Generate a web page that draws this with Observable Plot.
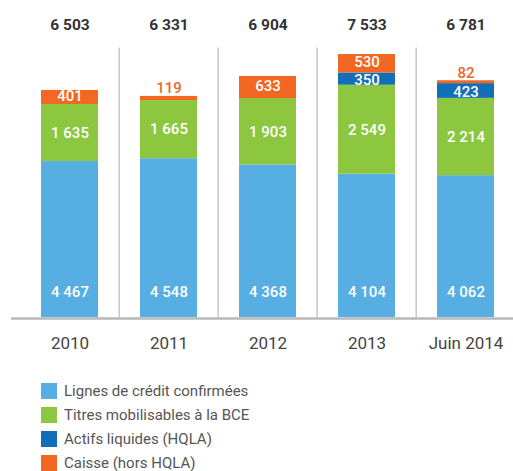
<!DOCTYPE html>
<html>
<head>
<meta charset="utf-8">
<script src="https://cdn.jsdelivr.net/npm/d3@7"></script>
<script src="https://cdn.jsdelivr.net/npm/@observablehq/plot@0.6"></script>
<style>
  body { margin: 0; background: #fff; font-family: Roboto, "Noto Sans", sans-serif; }
  #legend { padding-left: 41px; margin-top: 19px; }
  .item { display: flex; align-items: center; height: 24px; font-size: 15px; color: #555; }
  .sw { width: 16px; height: 16px; margin-right: 7px; }
</style>
</head>
<body>
<div id="chart"></div>
<div id="legend"></div>
<script>
const categories = ["2010", "2011", "2012", "2013", "Juin 2014"];
const totals = [6503, 6331, 6904, 7533, 6781];
const lignes = [4467, 4548, 4368, 4104, 4062];
const titres = [1635, 1665, 1903, 2549, 2214];
const actifs = [0, 0, 0, 350, 423];
const caisse = [401, 119, 633, 530, 82];
const seriesNames = ["Lignes de crédit confirmées", "Titres mobilisables à la BCE", "Actifs liquides (HQLA)", "Caisse (hors HQLA)"];
const seriesColors = ["#56AEE2", "#8DC63F", "#126FB7", "#F26722"];

const seriesValues = [lignes, titres, actifs, caisse];
const fmt = d3.formatLocale({decimal: ",", thousands: " ", grouping: [3], currency: ["", ""]}).format(",d");

const rows = [];
categories.forEach((c, i) => {
  let acc = 0;
  seriesValues.forEach((vals, s) => {
    const v = vals[i];
    if (v > 0) rows.push({cat: c, series: seriesNames[s], s, value: v, y1: acc, y2: acc + v});
    acc += v;
  });
});
const totalRows = categories.map((c, i) => ({cat: c, total: totals[i]}));

const bottomLabels = rows.filter(d => d.s === 0);
const greenLabels = rows.filter(d => d.s === 1);
const blueLabels = rows.filter(d => d.s === 2);
const orangeIn = rows.filter(d => d.s === 3 && d.value >= 200);
const orangeOut = rows.filter(d => d.s === 3 && d.value < 200);
const mid = d => (d.y1 + d.y2) / 2;
const lab = {text: d => fmt(d.value), fontSize: 15, fontWeight: 500, lineAnchor: "middle"};

const chart = Plot.plot({
  width: 513,
  height: 360,
  marginTop: 0,
  marginLeft: 11,
  marginRight: 0,
  marginBottom: 43,
  style: {fontFamily: "Roboto, sans-serif", background: "#fff"},
  x: {domain: categories, range: [18.75, 516.25], paddingInner: 0.427, paddingOuter: 0.2135, label: null},
  y: {domain: [0, 7533], range: [317, 54], axis: null},
  color: {domain: seriesNames, range: seriesColors},
  marks: [
    Plot.ruleX(categories.slice(0, 4), {x: d => d, y1: 0, y2: 7720, dx: 49.2, stroke: "#c8c8c8", strokeWidth: 1.5}),
    Plot.barY(rows, {x: "cat", y1: "y1", y2: "y2", fill: "series"}),
    Plot.ruleY([0], {stroke: "#b8b8b8", strokeWidth: 2.5, dy: 1}),
    Plot.axisX({tickSize: 0, tickPadding: 19, fontSize: 17, fill: "#444", label: null}),
    Plot.text(totalRows, {x: "cat", frameAnchor: "top", dy: 25, text: d => fmt(d.total), fontSize: 15.5, fontWeight: "bold", fill: "#333", lineAnchor: "middle"}),
    Plot.text(bottomLabels, {...lab, x: "cat", y: 0, dy: -25, fill: "white"}),
    Plot.text(greenLabels, {...lab, x: "cat", y: mid, fill: "white"}),
    Plot.text(blueLabels, {...lab, x: "cat", y: mid, dy: 1, fill: "white"}),
    Plot.text(orangeIn, {...lab, x: "cat", y: mid, dy: -1.2, fill: "white"}),
    Plot.text(orangeOut, {...lab, x: "cat", y: "y2", dy: -8, fill: seriesColors[3]})
  ]
});
document.getElementById("chart").append(chart);

const legend = document.getElementById("legend");
seriesNames.forEach((n, i) => {
  const item = document.createElement("div");
  item.className = "item";
  const sw = document.createElement("div");
  sw.className = "sw";
  sw.style.background = seriesColors[i];
  const t = document.createElement("span");
  t.textContent = n;
  item.append(sw, t);
  legend.append(item);
});
</script>
</body>
</html>
